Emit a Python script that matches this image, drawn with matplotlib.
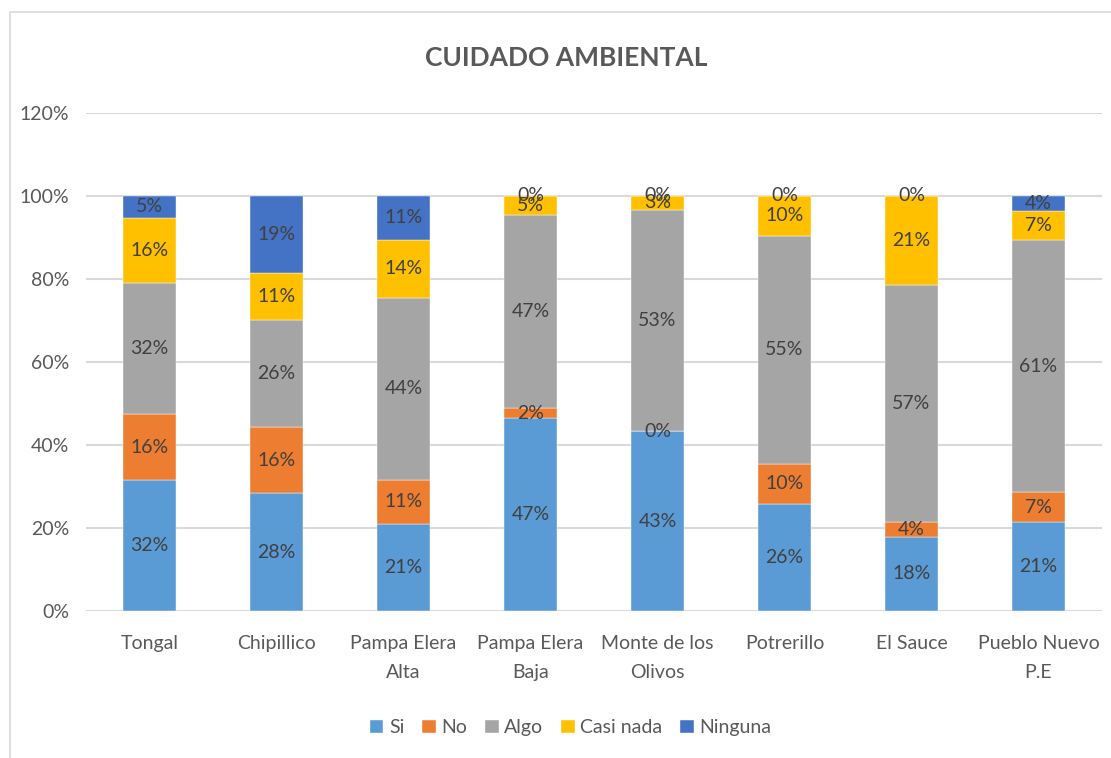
import numpy as np
import matplotlib
matplotlib.use("Agg")
import matplotlib.pyplot as plt
from matplotlib.patches import Rectangle

plt.rcParams['font.family'] = ['Lato', 'DejaVu Sans']

categories = ["Tongal", "Chipillico", "Pampa Elera\nAlta", "Pampa Elera\nBaja",
              "Monte de los\nOlivos", "Potrerillo", "El Sauce", "Pueblo Nuevo\nP.E"]
series = ["Si", "No", "Algo", "Casi nada", "Ninguna"]
si = [31.58, 28.4, 21.05, 46.51, 43.33, 25.81, 17.86, 21.43]
no = [15.79, 15.9, 10.53, 2.33, 0.0, 9.68, 3.57, 7.14]
algo = [31.58, 25.8, 43.86, 46.51, 53.33, 54.84, 57.14, 60.71]
casi_nada = [15.79, 11.3, 14.04, 4.65, 3.33, 9.68, 21.43, 7.14]
ninguna = [5.26, 18.6, 10.53, 0.0, 0.0, 0.0, 0.0, 3.57]
colors = ["#5B9BD5", "#ED7D31", "#A5A5A5", "#FFC000", "#4472C4"]

data = [si, no, algo, casi_nada, ninguna]

fig = plt.figure(figsize=(11.11, 7.58), dpi=100)
fig.patches.append(Rectangle((10 / 1111, -0.05), 1.2, 1 - 12 / 758 + 0.05,
                             transform=fig.transFigure, fill=False,
                             edgecolor="#D9D9D9", linewidth=1.2))
ax = fig.add_axes([0.0774, 0.194, 0.9145, 0.657])

x = np.arange(len(categories))
bottom = np.zeros(len(categories))
for name, vals, c in zip(series, data, colors):
    v = np.array(vals) / 100
    ax.bar(x, v, 0.41, bottom=bottom, color=c, label=name, zorder=3,
           edgecolor="white", linewidth=0.3)
    for xi, b, h, raw in zip(x, bottom, v, vals):
        ax.text(xi, b + h / 2, f"{raw:.0f}%", ha="center", va="center",
                fontsize=14, color="#404040", zorder=4)
    bottom += v

ax.set_ylim(0, 1.2)
ax.set_xlim(-0.5, len(categories) - 0.5)
ax.set_yticks(np.arange(0, 1.21, 0.2))
ax.set_yticklabels([f"{int(round(t * 100))}%" for t in np.arange(0, 1.21, 0.2)])
ax.yaxis.grid(True, color="#D9D9D9", linewidth=1.5, zorder=0)
ax.set_xticks(x)
ax.set_xticklabels(categories, linespacing=1.9)
ax.tick_params(axis="both", length=0, labelsize=14, colors="#595959")
ax.tick_params(axis="x", pad=17)
ax.tick_params(axis="y", pad=12)
for s in ax.spines.values():
    s.set_visible(False)

fig.text(0.51, 0.923, "CUIDADO AMBIENTAL", ha="center", va="center",
         fontsize=19, fontweight="bold", color="#595959")

ax.legend(loc="center", bbox_to_anchor=(0.477, -0.235), ncol=5, frameon=False,
          fontsize=14, handlelength=0.7, handleheight=0.7, handletextpad=0.3,
          columnspacing=0.9, labelcolor="#595959")

fig.savefig("out.png", dpi=100)
